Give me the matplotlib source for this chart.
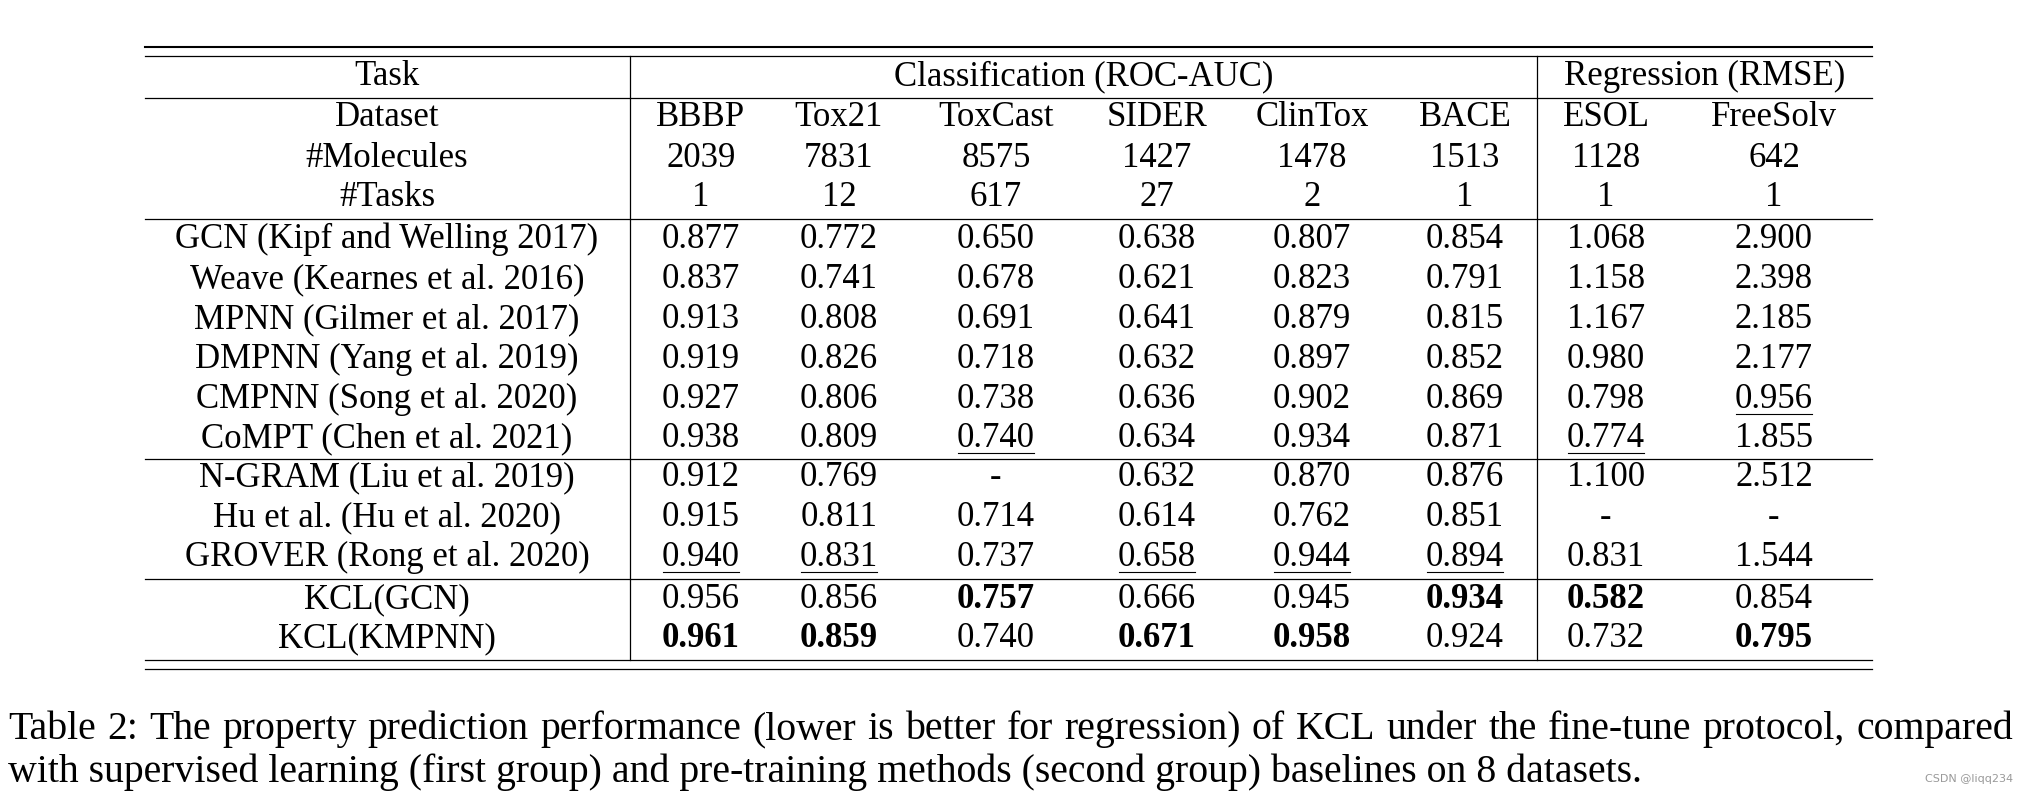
import matplotlib
matplotlib.use('Agg')
import matplotlib.pyplot as plt

plt.rcParams['font.family'] = ['Liberation Serif', 'DejaVu Serif']

# table content
datasets = ['BBBP', 'Tox21', 'ToxCast', 'SIDER', 'ClinTox', 'BACE', 'ESOL', 'FreeSolv']
n_molecules = ['2039', '7831', '8575', '1427', '1478', '1513', '1128', '642']
n_tasks = ['1', '12', '617', '27', '2', '1', '1', '1']

methods = [
    'GCN (Kipf and Welling 2017)',
    'Weave (Kearnes et al. 2016)',
    'MPNN (Gilmer et al. 2017)',
    'DMPNN (Yang et al. 2019)',
    'CMPNN (Song et al. 2020)',
    'CoMPT (Chen et al. 2021)',
    'N-GRAM (Liu et al. 2019)',
    'Hu et al. (Hu et al. 2020)',
    'GROVER (Rong et al. 2020)',
    'KCL(GCN)',
    'KCL(KMPNN)',
]

scores = [
    ['0.877', '0.772', '0.650', '0.638', '0.807', '0.854', '1.068', '2.900'],
    ['0.837', '0.741', '0.678', '0.621', '0.823', '0.791', '1.158', '2.398'],
    ['0.913', '0.808', '0.691', '0.641', '0.879', '0.815', '1.167', '2.185'],
    ['0.919', '0.826', '0.718', '0.632', '0.897', '0.852', '0.980', '2.177'],
    ['0.927', '0.806', '0.738', '0.636', '0.902', '0.869', '0.798', '0.956'],
    ['0.938', '0.809', '0.740', '0.634', '0.934', '0.871', '0.774', '1.855'],
    ['0.912', '0.769', '-', '0.632', '0.870', '0.876', '1.100', '2.512'],
    ['0.915', '0.811', '0.714', '0.614', '0.762', '0.851', '-', '-'],
    ['0.940', '0.831', '0.737', '0.658', '0.944', '0.894', '0.831', '1.544'],
    ['0.956', '0.856', '0.757', '0.666', '0.945', '0.934', '0.582', '0.854'],
    ['0.961', '0.859', '0.740', '0.671', '0.958', '0.924', '0.732', '0.795'],
]

# (row, col) of best / second best
best = [(9, 2), (9, 5), (9, 6), (10, 0), (10, 1), (10, 3), (10, 4), (10, 7)]
second = [(4, 7), (5, 2), (5, 6), (8, 0), (8, 1), (8, 3), (8, 4), (8, 5)]

caption = ['Table 2: The property prediction performance (lower is better for regression) of KCL under the fine-tune protocol, compared',
           'with supervised learning (first group) and pre-training methods (second group) baselines on 8 datasets.']

W, H = 2023, 793
fig = plt.figure(figsize=(W / 100, H / 100), dpi=100)
ax = fig.add_axes([0, 0, 1, 1])
ax.set_xlim(0, W)
ax.set_ylim(H, 0)
ax.axis('off')

fs = 25
cap_fs = 28.6
left, right = 145, 1872
vsep = [630, 1537]
col_x = [701, 839, 996, 1157, 1312, 1465, 1606, 1774]
task_x = 387

# baselines of the rows
head_y = [85, 126, 167, 206]
row_y = [248.5, 288, 328, 368, 407.5, 447, 486, 526, 566, 608, 647]

# rules
thin = 0.9
ax.plot([left, right], [47, 47], color='k', lw=1.5)
for y in [56, 98, 219, 459, 579, 660, 669]:
    ax.plot([left, right], [y, y], color='k', lw=thin)
for x in vsep:
    ax.plot([x, x], [56, 660], color='k', lw=thin)

# header
ax.text(task_x, head_y[0], 'Task', ha='center', va='baseline', fontsize=fs)
ax.text((vsep[0] + vsep[1]) / 2, head_y[0], 'Classification (ROC-AUC)', ha='center', va='baseline', fontsize=fs)
ax.text((vsep[1] + right) / 2, head_y[0], 'Regression (RMSE)', ha='center', va='baseline', fontsize=fs)
for lab, vals, y in [('Dataset', datasets, head_y[1]), ('#Molecules', n_molecules, head_y[2]), ('#Tasks', n_tasks, head_y[3])]:
    ax.text(task_x, y, lab, ha='center', va='baseline', fontsize=fs)
    for x, v in zip(col_x, vals):
        ax.text(x, y, v, ha='center', va='baseline', fontsize=fs)

# body
cells = {}
for i, (m, row) in enumerate(zip(methods, scores)):
    ax.text(task_x, row_y[i], m, ha='center', va='baseline', fontsize=fs)
    for j, v in enumerate(row):
        w = 'bold' if (i, j) in best else 'normal'
        cells[(i, j)] = ax.text(col_x[j], row_y[i], v, ha='center', va='baseline', fontsize=fs, fontweight=w)

# underline the second best
fig.canvas.draw()
r = fig.canvas.get_renderer()
inv = ax.transData.inverted()
for (i, j) in second:
    bb = cells[(i, j)].get_window_extent(r)
    x0 = inv.transform((bb.x0, 0))[0]
    x1 = inv.transform((bb.x1, 0))[0]
    ax.plot([x0 + 1, x1 - 1], [row_y[i] + 6, row_y[i] + 6], color='k', lw=0.8)

# caption, first line justified to the full width like in the paper
cap_left, cap_right = 8, 2013
words = caption[0].split(' ')
wtexts = [ax.text(0, 739, wd, ha='left', va='baseline', fontsize=cap_fs) for wd in words]
fig.canvas.draw()
widths = [t.get_window_extent(r).width for t in wtexts]
gap = (cap_right - cap_left - sum(widths)) / (len(words) - 1)
x = cap_left
for t, wd in zip(wtexts, widths):
    t.set_x(x)
    x += wd + gap
ax.text(cap_left, 782, caption[1], ha='left', va='baseline', fontsize=cap_fs)

ax.text(2013, 782, 'CSDN @liqq234', ha='right', va='baseline', fontsize=8, color='#999999', family='DejaVu Sans')

fig.savefig('out.png', dpi=100)
